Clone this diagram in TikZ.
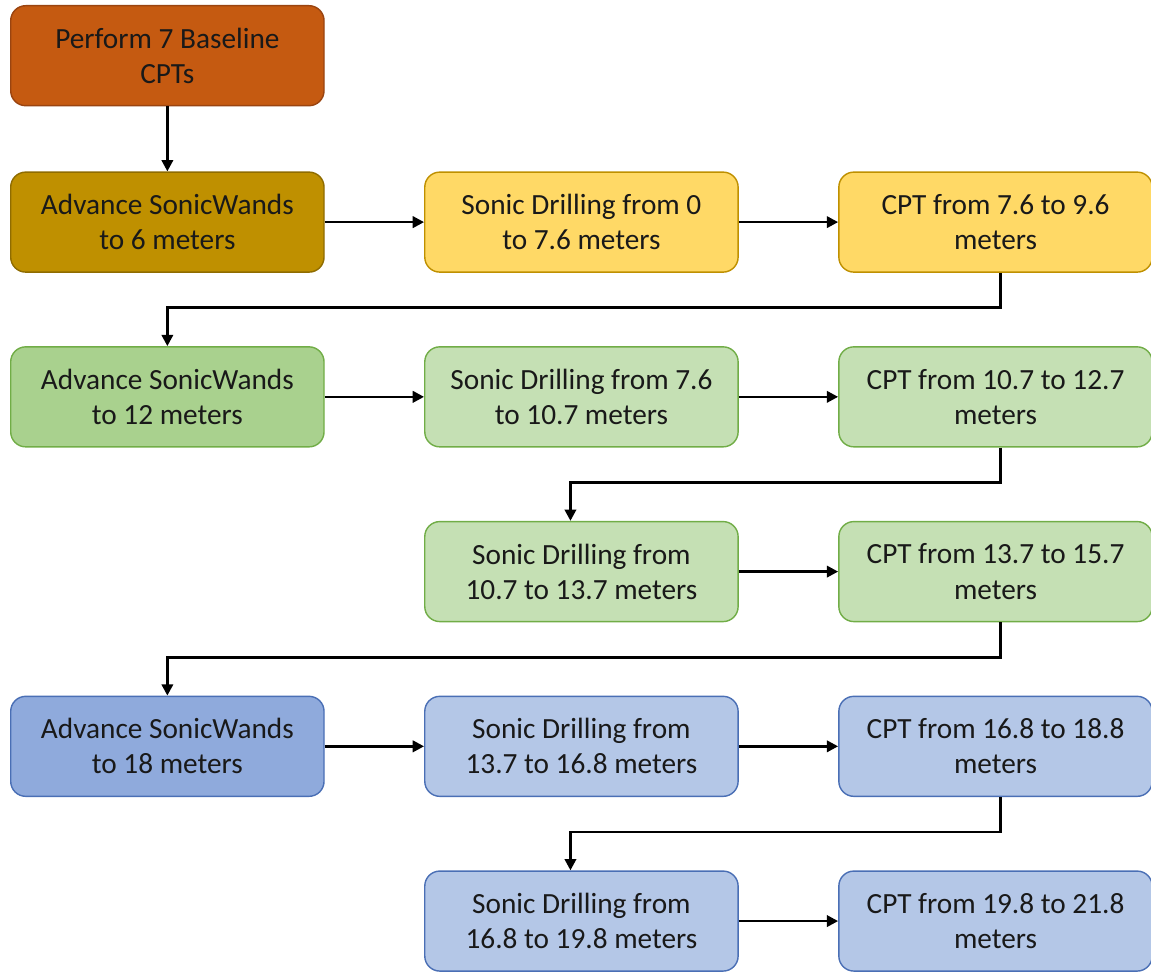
\documentclass[tikz,border=0pt]{standalone}
\usepackage{fontspec}
\setmainfont{Carlito}
\usepackage{xcolor}
\usetikzlibrary{positioning, arrows.meta}

\definecolor{rustfill}{HTML}{C55A11}
\definecolor{rustline}{HTML}{9A4410}
\definecolor{goldfill}{HTML}{BF9000}
\definecolor{goldline}{HTML}{8F6C00}
\definecolor{yellowfill}{HTML}{FFD966}
\definecolor{yellowline}{HTML}{BF9000}
\definecolor{greendark}{HTML}{A9D18E}
\definecolor{greenlight}{HTML}{C5E0B4}
\definecolor{greenline}{HTML}{71AD47}
\definecolor{bluedark}{HTML}{8FAADC}
\definecolor{bluelight}{HTML}{B4C7E7}
\definecolor{blueline}{HTML}{4A6FB5}

\begin{document}
\begin{tikzpicture}[
    node distance=2.2cm and 2.98cm,
    stepbox/.style={rectangle, rounded corners=0.45cm, line width=1.2pt, minimum width=9.4cm, minimum height=3cm, align=center, font=\fontsize{25}{30}\selectfont, text=black!90},
    baseline box/.style={stepbox, fill=rustfill, draw=rustline},
    advbox/.style={stepbox, fill=#1dark, draw=#1line},
    workbox/.style={stepbox, fill=#1light, draw=#1line},
    arrow/.style={-{Triangle[length=0.34cm, width=0.34cm]}, line width=2.3pt, draw=black}
]
\useasboundingbox (0,0) rectangle (34.53,-29.16);

% Baseline
\node[baseline box, anchor=north west] (base) at (0.3,-0.15) {Perform 7 Baseline\\CPTs};

% First stage (6 m)
\node[stepbox, fill=goldfill, draw=goldline, below=1.95cm of base] (adv6) {Advance SonicWands\\to 6 meters};
\node[stepbox, fill=yellowfill, draw=yellowline, right=of adv6] (drill0) {Sonic Drilling from 0\\to 7.6 meters};
\node[stepbox, fill=yellowfill, draw=yellowline, right=of drill0] (cpt76) {CPT from 7.6 to 9.6\\meters};

% Second stage (12 m)
\node[advbox=green, below=of adv6] (adv12) {Advance SonicWands\\to 12 meters};
\node[workbox=green, right=of adv12] (drill76) {Sonic Drilling from 7.6\\to 10.7 meters};
\node[workbox=green, right=of drill76] (cpt107) {CPT from 10.7 to 12.7\\meters};
\node[workbox=green, below=of drill76] (drill107) {Sonic Drilling from\\10.7 to 13.7 meters};
\node[workbox=green, right=of drill107] (cpt137) {CPT from 13.7 to 15.7\\meters};

% Third stage (18 m)
\node[workbox=blue, below=of drill107] (drill137) {Sonic Drilling from\\13.7 to 16.8 meters};
\node[advbox=blue, left=of drill137] (adv18) {Advance SonicWands\\to 18 meters};
\node[workbox=blue, right=of drill137] (cpt168) {CPT from 16.8 to 18.8\\meters};
\node[workbox=blue, below=of drill137] (drill168) {Sonic Drilling from\\16.8 to 19.8 meters};
\node[workbox=blue, right=of drill168] (cpt198) {CPT from 19.8 to 21.8\\meters};

% Arrows
\draw[arrow] (base) -- (adv6);
\draw[arrow] (adv6) -- (drill0);
\draw[arrow] (drill0) -- (cpt76);
\draw[arrow] ([xshift=0.15cm]cpt76.south) -- ++(0,-1.05) -| (adv12.north);
\draw[arrow] (adv12) -- (drill76);
\draw[arrow] (drill76) -- (cpt107);
\draw[arrow] ([xshift=0.15cm]cpt107.south) -- ++(0,-1.05) -| ([xshift=-0.33cm]drill107.north);
\draw[arrow] (drill107) -- (cpt137);
\draw[arrow] ([xshift=0.15cm]cpt137.south) -- ++(0,-1.05) -| (adv18.north);
\draw[arrow] (adv18) -- (drill137);
\draw[arrow] (drill137) -- (cpt168);
\draw[arrow] ([xshift=0.15cm]cpt168.south) -- ++(0,-1.05) -| ([xshift=-0.33cm]drill168.north);
\draw[arrow] (drill168) -- (cpt198);

\end{tikzpicture}
\end{document}
